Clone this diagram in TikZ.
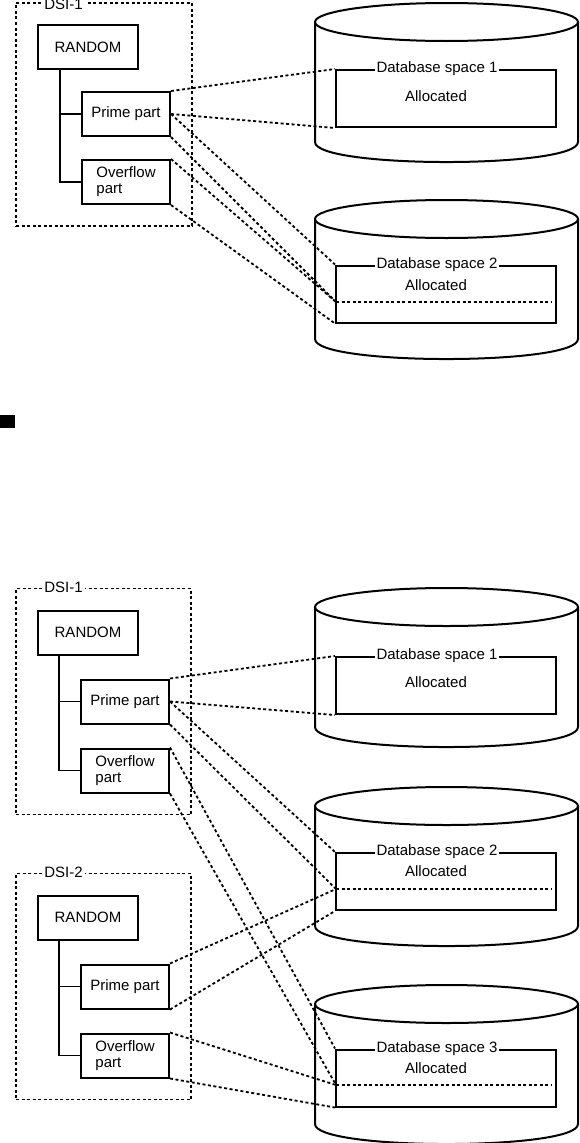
\documentclass[tikz,border=0pt]{standalone}
\usepackage{fontspec}
\setmainfont{Liberation Sans}
\usetikzlibrary{positioning,fit}

\begin{document}
\begin{tikzpicture}[
  x=1pt, y=-1pt,
  font=\fontsize{15}{16}\selectfont,
  box/.style={draw, line width=2pt, align=center, minimum width=100pt, minimum height=44pt, inner sep=1pt},
  part/.style={draw, line width=2pt, align=left, minimum width=88pt, minimum height=44pt, inner sep=1pt},
  dsibox/.style={draw, line width=1.8pt, dash pattern=on 3pt off 2.5pt, inner sep=21pt},
  dsitag/.style={fill=white, inner sep=2pt},
  dbspace/.style={draw, line width=2pt, minimum width=220pt, minimum height=57pt, inner sep=0pt},
  dbtitle/.style={fill=white, inner sep=1.5pt},
  note/.style={inner sep=1pt},
  treeline/.style={line width=1.6pt},
  drum/.style={line width=2pt},
  dashline/.style={line width=1.8pt, dash pattern=on 3pt off 2.5pt}
]
\useasboundingbox (0,0) rectangle (579,1143);

\foreach \cy in {22,219,607,806,1004} {
  \draw[drum] (446.5,\cy) ellipse [x radius=131.5, y radius=19];
  \draw[drum] (315,\cy) -- (315,\cy+120) .. controls (315,\cy+146.7) and (578,\cy+146.7) .. (578,\cy+120) -- (578,\cy);
}

% upper layout
\node[box] (randA) at (88,47) {RANDOM};
\node[part, below right=21pt and 44pt of randA.south west] (primeA) {Prime part};
\node[part, below=22pt of primeA] (overA) {Overflow\\part};
\node[dsibox, fit=(randA)(overA)] (dsiA) {};
\node[dsitag, anchor=west] (tagA) at ([xshift=27pt, yshift=-2.5pt]dsiA.north west) {DSI-1};
\draw[treeline] ([xshift=23pt]randA.south west) |- (overA.west);
\draw[treeline] (primeA.west) -- ++(-21pt,0);

\node[dbspace] (spaceA1) at (446,98.5) {};
\node[dbtitle] (titleA1) at ([xshift=-9pt]spaceA1.north) {Database space 1};
\node[note] (allocA1) at (436,96) {Allocated};

\node[dbspace] (spaceA2) at (446,294) {};
\node[dbtitle] (titleA2) at ([xshift=-9pt]spaceA2.north) {Database space 2};
\node[note] (allocA2) at (436,285) {Allocated};
\coordinate (cutA2) at (336,302);
\draw[dashline] (cutA2) -- ++(216pt,0);

\draw[dashline] (primeA.north east) -- (spaceA1.north west);
\draw[dashline] (primeA.east) -- (spaceA1.south west);
\draw[dashline] (primeA.east) -- (spaceA2.north west);
\draw[dashline] (primeA.south east) -- (cutA2);
\draw[dashline] (overA.north east) -- (cutA2);
\draw[dashline] (overA.south east) -- (spaceA2.south west);

\fill (0,415) rectangle (15,428);

% lower layout
\node[box] (randB1) at (88,632.5) {RANDOM};
\node[part, below right=23pt and 43pt of randB1.south west] (primeB1) {Prime part};
\node[part, below=23pt of primeB1] (overB1) {Overflow\\part};
\node[dsibox, fit=(randB1)(overB1)] (dsiB1) {};
\node[dsitag, anchor=west] (tagB1) at ([xshift=27pt]dsiB1.north west) {DSI-1};
\draw[treeline] ([xshift=22pt]randB1.south west) |- (overB1.west);
\draw[treeline] (primeB1.west) -- ++(-21pt,0);

\node[box] (randB2) at (88,917.5) {RANDOM};
\node[part, below right=23pt and 43pt of randB2.south west] (primeB2) {Prime part};
\node[part, below=23pt of primeB2] (overB2) {Overflow\\part};
\node[dsibox, fit=(randB2)(overB2)] (dsiB2) {};
\node[dsitag, anchor=west] (tagB2) at ([xshift=27pt]dsiB2.north west) {DSI-2};
\draw[treeline] ([xshift=22pt]randB2.south west) |- (overB2.west);
\draw[treeline] (primeB2.west) -- ++(-21pt,0);

\node[dbspace] (spaceB1) at (446,685.5) {};
\node[dbtitle] (titleB1) at ([xshift=-9pt]spaceB1.north) {Database space 1};
\node[note] (allocB1) at (436,682) {Allocated};

\node[dbspace] (spaceB2) at (446,881.5) {};
\node[dbtitle] (titleB2) at ([xshift=-9pt]spaceB2.north) {Database space 2};
\node[note] (allocB2) at (436,871) {Allocated};
\coordinate (cutB2) at (336,889);
\draw[dashline] (cutB2) -- ++(216pt,0);

\node[dbspace] (spaceB3) at (446,1078) {};
\node[dbtitle] (titleB3) at ([xshift=-9pt]spaceB3.north) {Database space 3};
\node[note] (allocB3) at (436,1068) {Allocated};
\coordinate (cutB3) at (336,1085);
\draw[dashline] (cutB3) -- ++(216pt,0);

\draw[dashline] (primeB1.north east) -- (spaceB1.north west);
\draw[dashline] (primeB1.east) -- (spaceB1.south west);
\draw[dashline] (primeB1.east) -- (spaceB2.north west);
\draw[dashline] (primeB1.south east) -- (cutB2);
\draw[dashline] (overB1.north east) -- (spaceB3.north west);
\draw[dashline] (overB1.south east) -- (cutB3);
\draw[dashline] (primeB2.north east) -- (cutB2);
\draw[dashline] (primeB2.south east) -- (spaceB2.south west);
\draw[dashline] (overB2.north east) -- (cutB3);
\draw[dashline] (overB2.south east) -- (spaceB3.south west);

\end{tikzpicture}
\end{document}
